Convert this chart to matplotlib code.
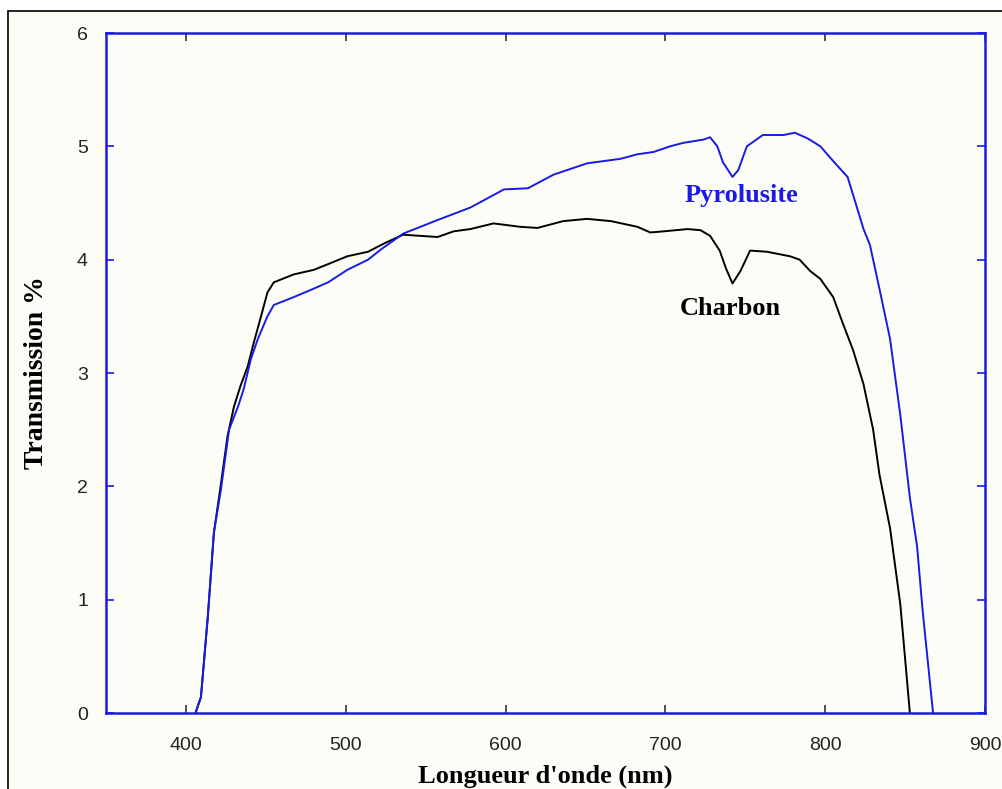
import matplotlib
matplotlib.use("Agg")
import matplotlib.pyplot as plt
from matplotlib.patches import Rectangle

# Data
charbon_x = [406, 409.4, 413.7, 417.5, 422, 426, 430, 434, 438.7, 442.5, 447, 451, 455,
             467.5, 480, 490.6, 501, 514, 525, 536, 557.5, 567.5, 578, 592.5, 609, 620,
             636, 651, 666, 682.5, 690.6, 699, 714, 722, 728, 734, 738, 742, 747, 753,
             763.5, 778, 784, 790.6, 797, 805, 811, 817.5, 824, 830, 834, 840.6, 847, 853]
charbon_y = [0, 0.14, 0.85, 1.59, 2.03, 2.44, 2.70, 2.88, 3.06, 3.27, 3.50, 3.71, 3.80,
             3.87, 3.91, 3.97, 4.03, 4.07, 4.15, 4.22, 4.20, 4.25, 4.27, 4.32, 4.29, 4.28,
             4.34, 4.36, 4.34, 4.29, 4.24, 4.25, 4.27, 4.26, 4.21, 4.08, 3.92, 3.79, 3.90, 4.08,
             4.07, 4.03, 4.00, 3.90, 3.83, 3.67, 3.44, 3.20, 2.90, 2.50, 2.10, 1.63, 0.96, 0]

pyro_x = [406, 409.4, 413.7, 417.5, 422, 427, 432.5, 436, 440.6, 445, 451, 455, 467.5,
          476, 489, 501, 514, 522, 536, 557.5, 578, 599, 614, 630, 651, 672, 682.5,
          692.5, 703, 711, 724, 728, 732.5, 736, 742, 745.6, 751, 761, 774, 781, 789,
          797, 805, 814, 817.5, 824, 828, 834, 840.6, 847, 853, 857.5, 861, 867.5]
pyro_y = [0, 0.14, 0.85, 1.59, 1.98, 2.5, 2.7, 2.85, 3.12, 3.3, 3.5, 3.6, 3.67,
          3.72, 3.80, 3.91, 4.0, 4.09, 4.23, 4.35, 4.46, 4.62, 4.63, 4.75, 4.85, 4.89, 4.93,
          4.95, 5.0, 5.03, 5.06, 5.08, 5.0, 4.86, 4.73, 4.79, 5.0, 5.1, 5.1, 5.12, 5.07,
          5.0, 4.87, 4.73, 4.57, 4.27, 4.13, 3.74, 3.3, 2.63, 1.9, 1.47, 0.9, 0]

x_ticks = [400, 500, 600, 700, 800, 900]
y_ticks = [0, 1, 2, 3, 4, 5, 6]

BLUE = "#1a1ae6"
CREAM = "#fdfdf8"

fig = plt.figure(figsize=(10.02, 7.89), dpi=100, facecolor="white")
# outer framed panel
frame = Rectangle((8 / 1002, -0.01), 1.0, (789 - 11) / 789 + 0.01,
                  transform=fig.transFigure, facecolor=CREAM,
                  edgecolor="black", linewidth=1.2, zorder=-10)
fig.add_artist(frame)

ax = fig.add_axes([106 / 1002, 76 / 789, (985 - 106) / 1002, (713 - 33) / 789])
ax.set_zorder(5)
ax.set_facecolor(CREAM)
ax.plot(charbon_x, charbon_y, color="black", linewidth=1.4)
ax.plot(pyro_x, pyro_y, color=BLUE, linewidth=1.4)

ax.set_xlim(350, 900)
ax.set_ylim(0, 6)
ax.set_xticks(x_ticks)
ax.set_yticks(y_ticks)
for s in ax.spines.values():
    s.set_color(BLUE)
    s.set_linewidth(1.8)

ax.tick_params(axis="both", direction="in", length=6, width=1.2, top=True, right=True,
               labelsize=14, colors=BLUE, labelcolor="#222222")
ax.tick_params(axis="x", pad=17, color="#333333")
ax.tick_params(axis="y", pad=13)
for lab in ax.get_xticklabels() + ax.get_yticklabels():
    lab.set_family("Liberation Sans")

ax.set_xlabel("Longueur d'onde (nm)", family="Liberation Serif", fontweight="bold",
              fontsize=19, labelpad=8)
ax.set_ylabel("Transmission %", family="Liberation Serif", fontweight="bold",
              fontsize=20, labelpad=20)

ax.text(747.5, 4.57, "Pyrolusite", color=BLUE, family="Liberation Serif",
        fontweight="bold", fontsize=19, ha="center", va="center")
ax.text(740.6, 3.57, "Charbon", color="black", family="Liberation Serif",
        fontweight="bold", fontsize=19, ha="center", va="center")

fig.savefig("out.png", dpi=100, facecolor="white")
